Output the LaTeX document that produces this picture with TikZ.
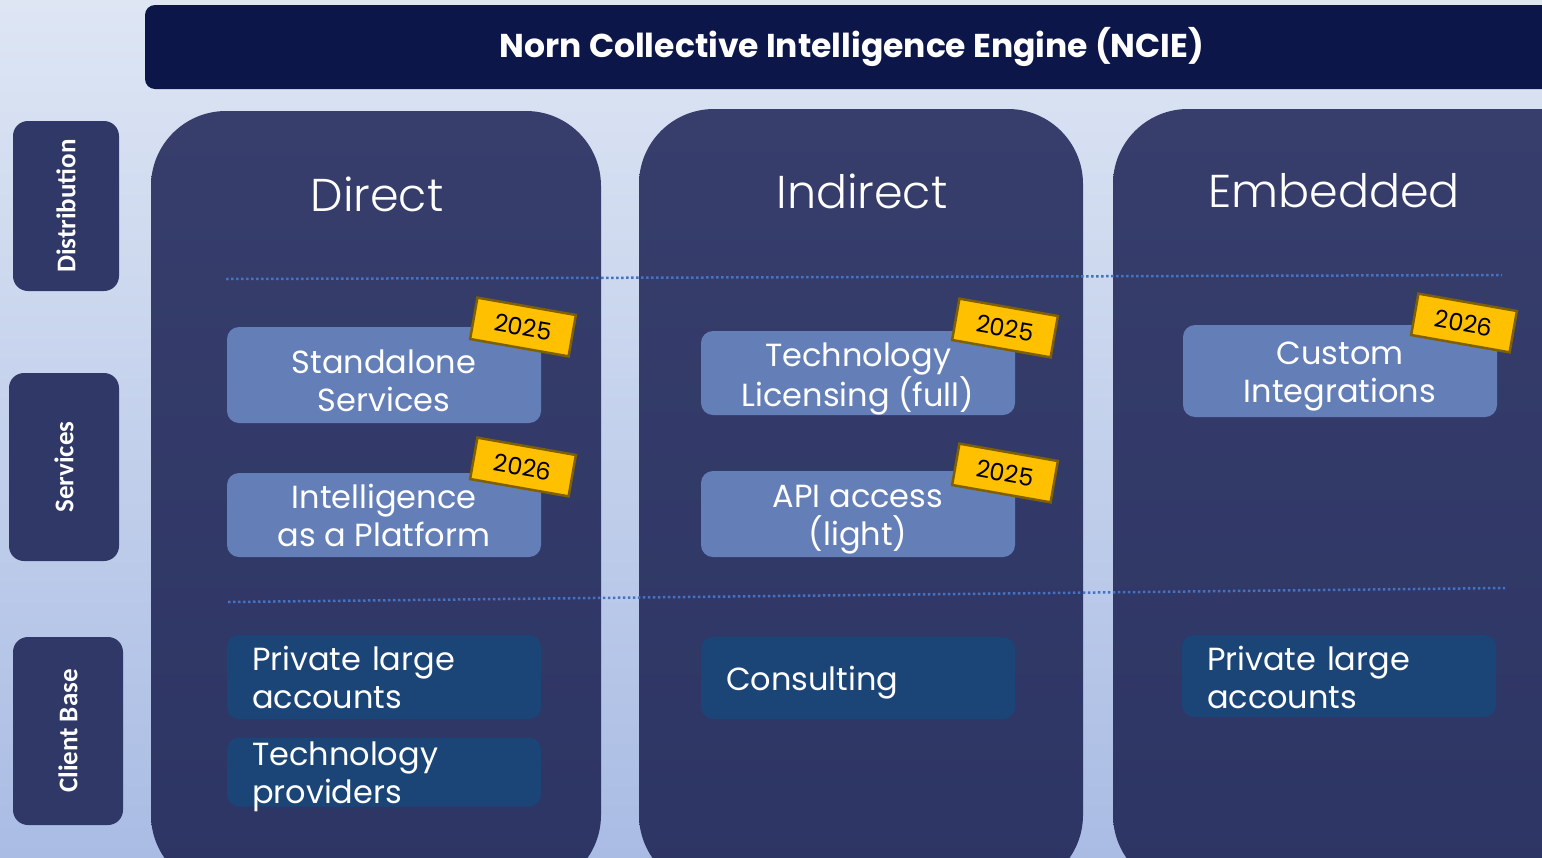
\documentclass[tikz,border=0pt]{standalone}
\usepackage{fontspec}
\setmainfont{Poppins}
\newfontfamily\sidefont{Carlito}
\newfontfamily\headFace{Poppins Light}
\definecolor{bgTop}{RGB}{222,230,244}
\definecolor{bgBot}{RGB}{170,188,228}
\definecolor{titleNavy}{RGB}{12,22,73}
\definecolor{colTop}{RGB}{55,62,108}
\definecolor{colBot}{RGB}{45,53,100}
\definecolor{sideBlue}{RGB}{47,56,102}
\definecolor{svcBlue}{RGB}{100,127,184}
\definecolor{clientBlue}{RGB}{27,68,119}
\definecolor{tagGold}{RGB}{255,192,0}
\definecolor{tagEdge}{RGB}{127,96,0}
\definecolor{dotBlue}{RGB}{68,114,196}
\newcommand{\boxFont}{\fontsize{32}{38}\selectfont}
\newcommand{\headFont}{\headFace\fontsize{46}{50}\selectfont}
\newcommand{\tagFont}{\fontsize{24}{28}\selectfont}
\newcommand{\colRadius}{75pt}
% box, then its text shifted by #5 (canvas pt)
\newcommand{\serviceBox}[6]{%
  \node (#1) [svcbox, minimum height=#4pt] at (#2,#3) {};
  \node (#1Text) [svctext] at ([yshift=#5pt]#1.center) {#6};}
\newcommand{\clientBox}[6]{%
  \node (#1) [clientbox, minimum height=#4pt] at (#2,#3) {};
  \node (#1Text) [clienttext] at ([yshift=#5pt]#1.center) {#6};}

\tikzset{
  column/.style={rounded corners=\colRadius, top color=colTop, bottom color=colBot},
  heading/.style={text=white, font=\headFont},
  svcbox/.style={fill=svcBlue, rounded corners=12pt, minimum width=314pt, inner sep=0pt},
  svctext/.style={text=white, align=center, font=\boxFont, inner sep=0pt},
  clientbox/.style={fill=clientBlue, rounded corners=12pt, minimum width=314pt, inner sep=0pt},
  clienttext/.style={text=white, align=left, text width=264pt, font=\boxFont, inner sep=0pt},
  yeartag/.style={fill=tagGold, draw=tagEdge, line width=2.5pt, minimum width=100pt,
    minimum height=42pt, inner sep=0pt, rotate=-10, font=\tagFont},
  sidebox/.style={fill=sideBlue, rounded corners=15pt, rotate=90, text=white,
    font=\sidefont\bfseries\fontsize{27}{30}\selectfont},
  divider/.style={draw=dotBlue, line width=2.5pt, dash pattern=on 2.5pt off 2.5pt}
}

\begin{document}
\begin{tikzpicture}[x=1pt, y=-1pt]
  \useasboundingbox (0,0) rectangle (1542,857);
  \clip (0,0) rectangle (1542,857);
  \shade[top color=bgTop, bottom color=bgBot] (0,0) rectangle (1542,857);

  % title bar
  \fill[titleNavy, rounded corners=10pt] (145,5) rectangle (1600,89);
  \node (title) [text=white, font=\bfseries\fontsize{33}{36}\selectfont] at (852,47)
    {Norn Collective Intelligence Engine (NCIE)};

  % row labels
  \node (dist) [sidebox, minimum width=170pt, minimum height=106pt] at (66,206) {Distribution};
  \node (serv) [sidebox, minimum width=188pt, minimum height=110pt] at (64,467) {Services};
  \node (clnt) [sidebox, minimum width=188pt, minimum height=110pt] at (68,731) {Client Base};

  % channel columns
  \shade[column] (151,111) rectangle (601,890);
  \shade[column] (639,109) rectangle (1083,890);
  \shade[column] (1113,109) rectangle (1620,890);

  \node (direct) [heading] at (377,194) {Direct};
  \node (indirect) [heading] at (862,191) {Indirect};
  \node (embedded) [heading] at (1334,191) {Embedded};

  \draw[divider] (226,279) -- (1502,275);
  \draw[divider] (228,602) -- (1505,588);

  % services
  \serviceBox{standalone}{384}{375}{96}{-6}{Standalone\\Services}
  \serviceBox{platform}{384}{515}{84}{0}{Intelligence\\as a Platform}
  \serviceBox{licensing}{858}{373}{84}{-6}{Technology\\Licensing (full)}
  \serviceBox{api}{858}{514}{86}{-6}{API access\\(light)}
  \serviceBox{custom}{1340}{371}{92}{-6}{Custom\\Integrations}

  \node (tagStandalone) [yeartag] at (523,327) {2025};
  \node (tagPlatform) [yeartag] at (523,467) {2026};
  \node (tagLicensing) [yeartag] at (1005,328) {2025};
  \node (tagApi) [yeartag] at (1005,473) {2025};
  \node (tagCustom) [yeartag] at (1464,323) {2026};

  % client base
  \clientBox{largeDirect}{384}{677}{84}{0}{Private large\\accounts}
  \clientBox{providers}{384}{772}{69}{-5}{Technology\\providers}
  \clientBox{consulting}{858}{678}{82}{-5}{Consulting}
  \clientBox{largeEmbedded}{1339}{676}{82}{-1}{Private large\\accounts}
\end{tikzpicture}
\end{document}
